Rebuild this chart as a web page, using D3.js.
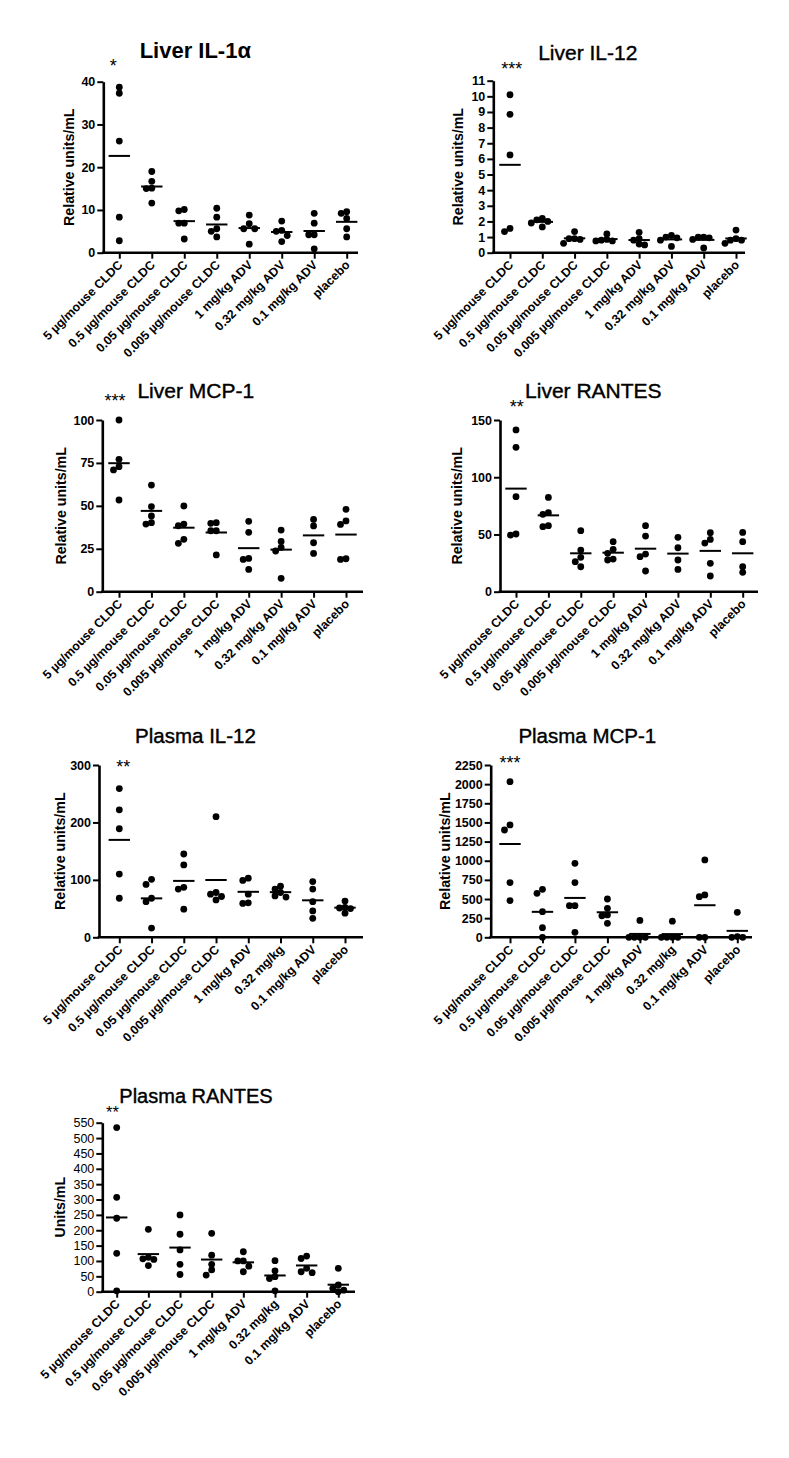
<!DOCTYPE html>
<html><head><meta charset="utf-8">
<script src="https://cdn.jsdelivr.net/npm/d3@7"></script>
<style>
html,body{margin:0;padding:0;background:#fff;}
svg{display:block;}
</style></head>
<body>
<svg id="chart" width="789" height="1458"></svg>
<script>
// ---------- DATA ----------
const categoriesLiver = ["5 µg/mouse CLDC","0.5 µg/mouse CLDC","0.05 µg/mouse CLDC","0.005 µg/mouse CLDC","1 mg/kg ADV","0.32 mg/kg ADV","0.1 mg/kg ADV","placebo"];
const categoriesPlasma = ["5 µg/mouse CLDC","0.5 µg/mouse CLDC","0.05 µg/mouse CLDC","0.005 µg/mouse CLDC","1 mg/kg ADV","0.32 mg/kg","0.1 mg/kg ADV","placebo"];

const liverIL1a = [[38.7,37.3,26.1,8.3,2.8],[15.0,15.1,19.0,16.7,11.6],[6.9,6.9,9.8,10.1,3.2],[10.4,8.3,5.6,3.7,5.0],[5.6,5.6,8.8,6.8,2.0],[7.4,5.0,5.2,4.0,2.6],[4.2,6.9,9.2,4.2,0.9],[9.2,8.0,9.6,5.6,3.7]];
const liverIL12 = [[10.1,8.85,6.25,1.35,1.55],[2.1,2.2,2.0,1.9,1.65],[1.35,0.9,0.85,0.6,0.9],[1.2,0.85,0.75,0.8,0.75],[1.3,0.9,0.5,0.55,0.8],[1.1,1.0,0.4,0.8,0.95],[1.0,0.95,0.3,0.85,1.0],[1.45,0.9,0.6,0.8,0.8]];
const liverMCP1 = [[100,72.8,77.1,70.9,53.4],[62.1,49.5,44.1,39.4,40.2],[39.4,49.9,38.4,30.5,28.2],[35.5,40.2,39.8,35.5,21.4],[41.0,34.6,19.4,18.8,13.0],[35.9,29.3,25.8,23.7,7.8],[42.1,38.3,28.5,22.3],[41.2,48.0,39.2,18.8,19.2]];
const liverRANTES = [[141.3,126.1,83.0,49.5,50.4],[69.0,82.4,67.6,56.8,57.7],[53.3,36.4,30.0,26.2,21.8],[43.7,37.0,27.7,28.5,33.5],[57.7,48.6,32.9,30.6,18.1],[38.4,47.5,27.7,19.5],[51.6,45.7,42.5,24.8,13.7],[51.8,43.7,21.8,16.9]];
const plasmaIL12 = [[259,222,189,110,68],[68,92,101,62,16],[145,126,87,84,49],[210,78,75,65,71],[103,99,75,59,60],[89,84,78,70,72],[97,84,62,46,33],[63,50,52,42,51]];
const plasmaMCP1 = [[2032,1401,1467,714,479],[574,627,335,126,0],[966,714,413,413,65],[500,379,292,280,183],[220,0,0,0,0],[210,0,0,0,0],[1010,553,531,0,0],[326,10,0,0]];
const plasmaRANTES = [[534,307,239,125,3],[203,105,107,85,112],[250,187,136,89,56],[190,119,89,71,54],[130,100,100,83,65],[49,101,68,43,3],[116,108,76,62,65],[76,22,11,5,0]];

const ticksIL1a = [0,10,20,30,40];
const ticksIL12 = [0,1,2,3,4,5,6,7,8,9,10,11];
const ticksMCP1 = [0,25,50,75,100];
const ticksRANTES = [0,50,100,150];
const ticksPIL12 = [0,100,200,300];
const ticksPMCP1 = [0,250,500,750,1000,1250,1500,1750,2000,2250];
const ticksPRANTES = [0,50,100,150,200,250,300,350,400,450,500,550];

const titles = ["Liver IL-1\u03b1","Liver IL-12","Liver MCP-1","Liver RANTES","Plasma IL-12","Plasma MCP-1","Plasma RANTES"];
const stars = ["*","***","***","**","**","***","**"];
const yLabels = ["Relative units/mL","Relative units/mL","Relative units/mL","Relative units/mL","Relative units/mL","Relative units/mL","Units/mL"];

// ---------- LAYOUT ----------
const panels = [
  {cats:categoriesLiver, data:liverIL1a, ticks:ticksIL1a, left:103.3, right:358, bottom:252.7, top:81.7, first:119.3, last:346.7, tx:195.3, ty:58.3, tBold:true, tSize:22, sx:113.3, sy:72, ss:18, ylx:69.3},
  {cats:categoriesLiver, data:liverIL12, ticks:ticksIL12, left:493.3, right:745, bottom:252.7, top:80.7, first:510, last:736, tx:587.8, ty:60, tSize:21, sx:511.7, sy:75, ss:18, ylx:458},
  {cats:categoriesLiver, data:liverMCP1, ticks:ticksMCP1, left:102.3, right:363, bottom:591.7, top:420, first:119, last:346, tx:195.8, ty:398.3, tSize:21, sx:115, sy:407, ss:18, ylx:60.7},
  {cats:categoriesLiver, data:liverRANTES, ticks:ticksRANTES, left:500, right:758, bottom:591.7, top:420, first:516, last:742.7, tx:593.3, ty:397.7, tSize:21, sx:516.7, sy:413, ss:18, ylx:457},
  {cats:categoriesPlasma, data:plasmaIL12, ticks:ticksPIL12, left:99, right:363, bottom:937.3, top:765, first:119.3, last:345, tx:195.5, ty:743.3, tSize:20.5, sx:123.3, sy:773, ss:18, ylx:60},
  {cats:categoriesPlasma, data:plasmaMCP1, ticks:ticksPMCP1, left:490.7, right:752, bottom:937.3, top:765, first:510, last:737.3, tx:587.3, ty:743.3, tSize:20.5, sx:510, sy:769, ss:18, ylx:445},
  {cats:categoriesPlasma, data:plasmaRANTES, ticks:ticksPRANTES, left:102.3, right:355, bottom:1291.7, top:1122.7, first:116.7, last:338.3, tx:196, ty:1102.7, tSize:20, sx:112.5, sy:1118, ss:16.5, ylx:60, tickNormal:true}
];

const svg = d3.select("#chart");
svg.append("rect").attr("width",789).attr("height",1458).attr("fill","#fff");
const FONT = "Liberation Sans, Arial, sans-serif";
const R = 3.4, STEP = 5.5;

function swarm(vals, y, cx){
  const placed = [];
  const order = vals.map((v,i)=>i).sort((a,b)=>vals[b]-vals[a]);
  const offs = [0];
  for(let j=1;j<8;j++){ offs.push(-j*STEP, j*STEP); }
  for(const i of order){
    const py = y(vals[i]);
    for(const o of offs){
      if(placed.every(p=>Math.hypot(p.x-(cx+o), p.y-py) >= 1.6*R)){ placed.push({x:cx+o,y:py}); break; }
    }
  }
  return placed;
}

panels.forEach((p,pi)=>{
  const g = svg.append("g");
  const x = d3.scalePoint().domain(p.cats).range([p.first,p.last]);
  const maxT = p.ticks[p.ticks.length-1];
  const y = d3.scaleLinear().domain([0,maxT]).range([p.bottom,p.top]);

  // y axis
  const ya = g.append("g").attr("transform",`translate(${p.left},0)`)
    .call(d3.axisLeft(y).tickValues(p.ticks).tickFormat(d3.format("d")).tickSize(6).tickPadding(2).tickSizeOuter(0));
  ya.select(".domain").attr("stroke","#000").attr("stroke-width",2.6);
  ya.selectAll(".tick line").attr("stroke","#000").attr("stroke-width",2);
  ya.selectAll(".tick text").attr("font-family",FONT).attr("font-size",12.5)
    .attr("font-weight",p.tickNormal?"normal":"bold").attr("fill","#000");

  // x axis
  const xa = g.append("g").attr("transform",`translate(0,${p.bottom})`)
    .call(d3.axisBottom(x).tickSize(6).tickSizeOuter(0).tickFormat(""));
  xa.select(".domain").attr("d",`M${p.left-1.3},0H${p.right}`).attr("stroke","#000").attr("stroke-width",2.6);
  xa.selectAll(".tick line").attr("stroke","#000").attr("stroke-width",2);

  // rotated category labels
  g.selectAll("text.cat").data(p.cats).join("text").attr("class","cat")
    .attr("transform",d=>`translate(${x(d)+4},${p.bottom+13}) rotate(-45)`)
    .attr("text-anchor","end").attr("font-family",FONT).attr("font-size",12.4)
    .attr("font-weight","bold").attr("fill","#000").text(d=>d);

  // y label
  g.append("text").attr("transform",`translate(${p.ylx+5},${(p.top+p.bottom)/2}) rotate(-90)`)
    .attr("text-anchor","middle").attr("font-family",FONT).attr("font-size",14.2)
    .attr("font-weight","bold").attr("fill","#000").text(yLabels[pi]);

  // title
  g.append("text").attr("x",p.tx).attr("y",p.ty).attr("text-anchor","middle")
    .attr("font-family",FONT).attr("font-size",p.tSize).attr("font-weight",p.tBold?"bold":"normal")
    .attr("fill","#000").attr("stroke",p.tBold?"none":"#000").attr("stroke-width",0.4)
    .text(titles[pi]);

  // stars
  g.append("text").attr("x",p.sx).attr("y",p.sy).attr("text-anchor","middle")
    .attr("font-family",FONT).attr("font-size",p.ss).attr("fill","#000").text(stars[pi]);

  // points + mean lines
  p.data.forEach((vals,ci)=>{
    const cx = x(p.cats[ci]);
    const pts = swarm(vals,y,cx);
    g.selectAll(null).data(pts).join("circle")
      .attr("cx",d=>d.x).attr("cy",d=>d.y).attr("r",R).attr("fill","#000");
    const m = d3.mean(vals);
    g.append("line").attr("x1",cx-10.7).attr("x2",cx+10.7).attr("y1",y(m)).attr("y2",y(m))
      .attr("stroke","#000").attr("stroke-width",2);
  });
});
</script>
</body></html>
